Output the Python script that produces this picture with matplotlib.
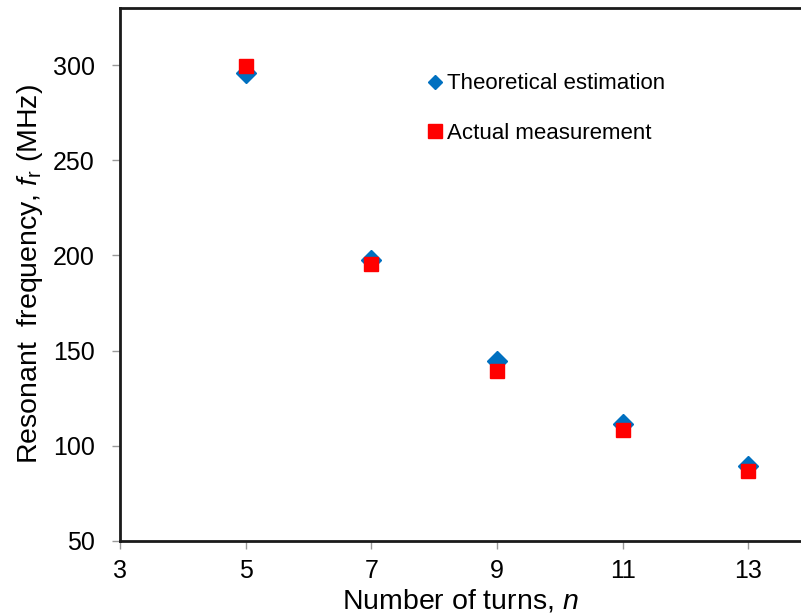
import numpy as np
import matplotlib
matplotlib.use("Agg")
import matplotlib.pyplot as plt

plt.rcParams['font.family'] = ['Liberation Sans', 'DejaVu Sans']
plt.rcParams['mathtext.fontset'] = 'custom'
plt.rcParams['mathtext.rm'] = 'Liberation Sans'
plt.rcParams['mathtext.it'] = 'Liberation Sans:italic'

# number of turns and resonant frequency (MHz)
turns = [5, 7, 9, 11, 13]
theoretical = [296, 197.5, 144.5, 111.5, 89.5]
measured = [299.5, 195.5, 139.5, 108.5, 87]

fig = plt.figure(figsize=(8.01, 6.16), dpi=100)
ax = fig.add_axes([0.1498, 0.1218, 0.8502, 0.8652])

ax.plot(turns, theoretical, linestyle='none', marker='D', markersize=10,
        color='#0070C0', label='Theoretical estimation')
ax.plot(turns, measured, linestyle='none', marker='s', markersize=10,
        color='#FF0000', label='Actual measurement')

ax.set_xlim(3, 13.84)
ax.set_ylim(50, 330)
ax.set_xticks([3, 5, 7, 9, 11, 13])
ax.set_yticks([50, 100, 150, 200, 250, 300])
ax.tick_params(axis='both', labelsize=18, color='#999999', length=6, width=1)
ax.tick_params(axis='x', pad=7)
ax.tick_params(axis='y', pad=12)

for s in ['left', 'bottom', 'top']:
    ax.spines[s].set_linewidth(2)
    ax.spines[s].set_color('#1a1a1a')
ax.spines['right'].set_visible(False)

ax.set_xlabel('Number of turns, $n$', fontsize=20.5, labelpad=3)
ax.set_ylabel('Resonant  frequency, $f_{\\mathrm{r}}$ (MHz)', fontsize=20.5, labelpad=6)

leg = ax.legend(loc='upper left', bbox_to_anchor=(0.422, 0.915), frameon=False,
                fontsize=16, handlelength=0.7, handletextpad=0.2, labelspacing=1.3)
leg.legend_handles[0].set_markersize(7)
leg.legend_handles[1].set_markersize(9.5)

fig.savefig('out.png', dpi=100)
